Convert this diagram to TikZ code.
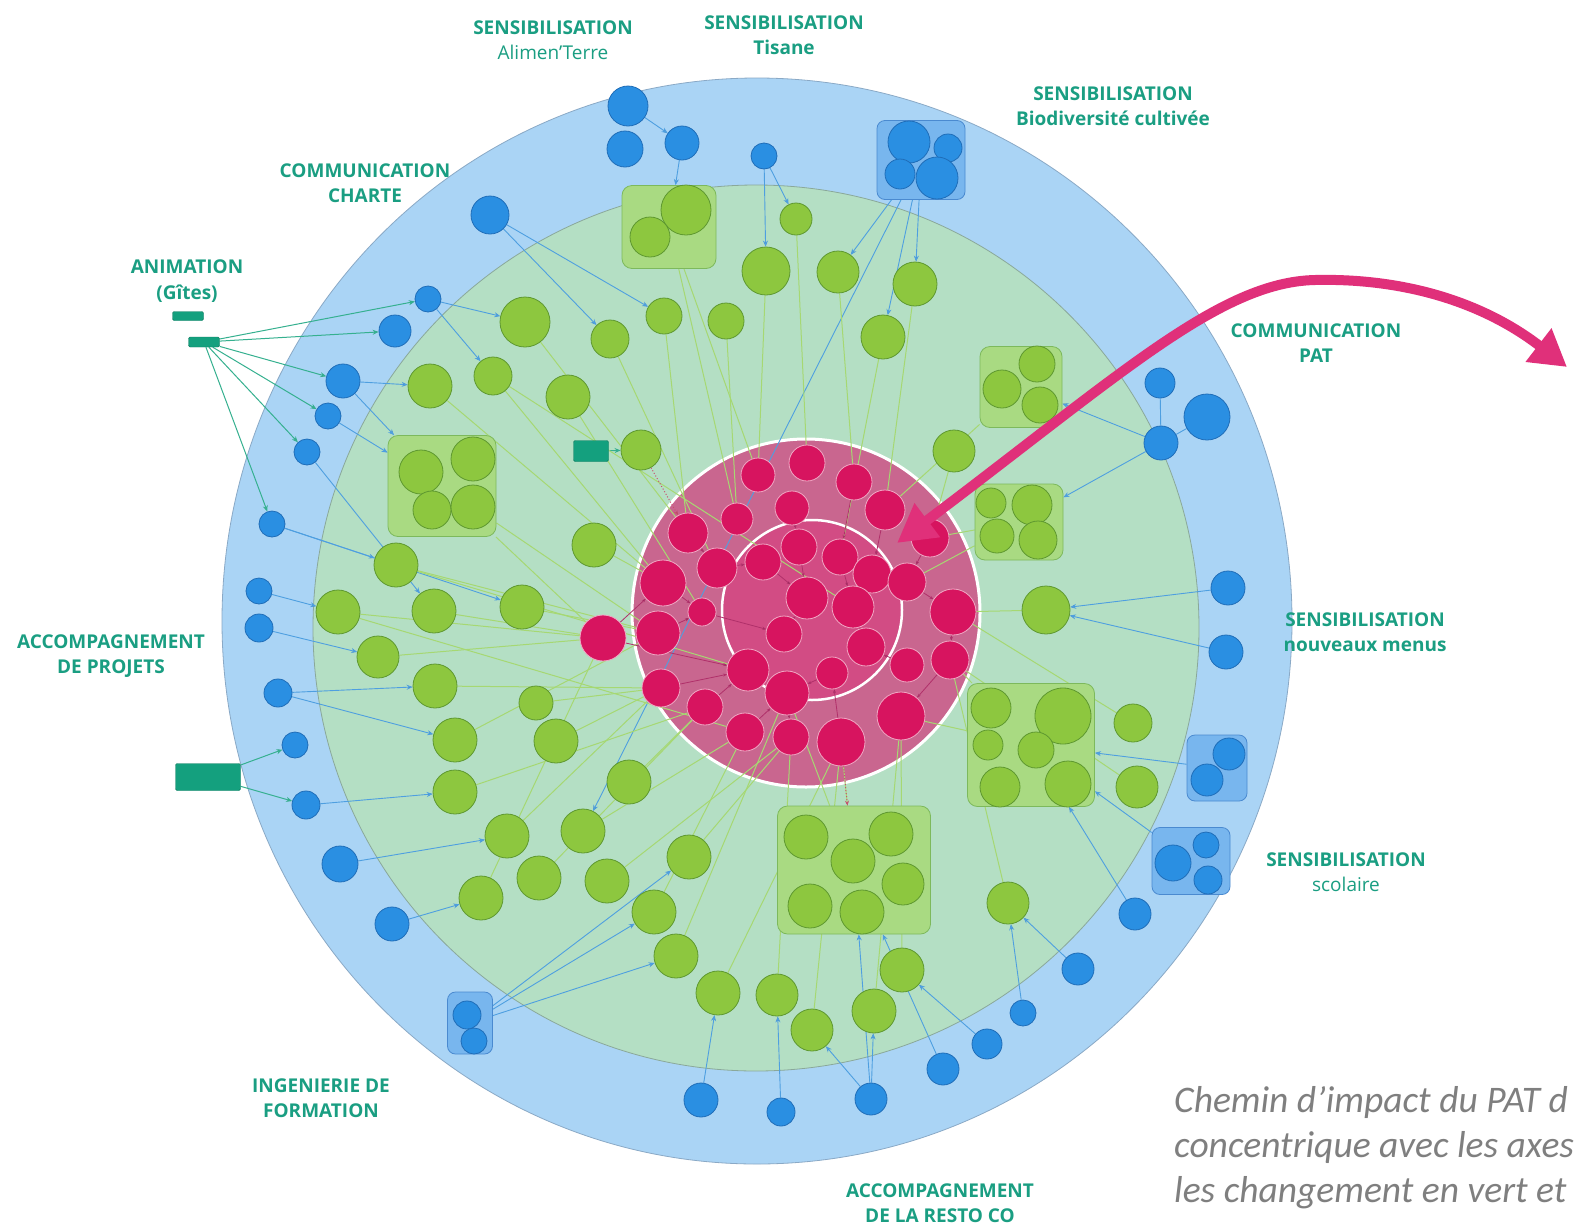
\documentclass[tikz,border=0pt]{standalone}
\usepackage{fontspec}
\setmainfont{Open Sans}
\newfontfamily\capfont{Carlito}
\usetikzlibrary{arrows.meta}
\definecolor{ringblue}{HTML}{AAD4F5}
\definecolor{ringbline}{HTML}{8AA9C6}
\definecolor{ringgreen}{HTML}{B4DFC4}
\definecolor{ringgline}{HTML}{8AA89A}
\definecolor{pinkring}{HTML}{C9668F}
\definecolor{pinkcore}{HTML}{D24C84}
\definecolor{bnodefill}{HTML}{2A8FE2}
\definecolor{bnodeline}{HTML}{1F6DB8}
\definecolor{gnodefill}{HTML}{8DC73F}
\definecolor{gnodeline}{HTML}{5E9830}
\definecolor{pnodefill}{HTML}{D7145F}
\definecolor{pnodeline}{HTML}{F0A8C4}
\definecolor{gboxfill}{HTML}{A9DA82}
\definecolor{gboxline}{HTML}{7DB95C}
\definecolor{bboxfill}{HTML}{78B6EE}
\definecolor{bboxline}{HTML}{4A8AD0}
\definecolor{tealfill}{HTML}{14A07E}
\definecolor{tealline}{HTML}{0D7A5F}
\definecolor{axetext}{HTML}{1A9E82}
\definecolor{captext}{HTML}{7F7F7F}
\definecolor{blinkc}{HTML}{4E9FE0}
\definecolor{glinkc}{HTML}{A6D872}
\definecolor{tlinkc}{HTML}{35B08F}
\definecolor{plinkc}{HTML}{B0306A}
\definecolor{rdotc}{HTML}{C8506E}
\definecolor{arrowc}{HTML}{E0307A}
\pgfdeclarelayer{bg}
\pgfsetlayers{bg,main}
\tikzset{
  bnode/.style={circle,draw=bnodeline,fill=bnodefill,line width=0.8pt,inner sep=0pt},
  gnode/.style={circle,draw=gnodeline,fill=gnodefill,line width=0.8pt,inner sep=0pt},
  pnode/.style={circle,draw=pnodeline,fill=pnodefill,line width=0.8pt,inner sep=0pt},
  gbox/.style={rectangle,rounded corners=10pt,draw=gboxline,fill=gboxfill,line width=0.8pt,inner sep=0pt},
  bbox/.style={rectangle,rounded corners=8pt,draw=bboxline,fill=bboxfill,line width=0.8pt,inner sep=0pt},
  tealbox/.style={rectangle,rounded corners=1.5pt,draw=tealline,fill=tealfill,inner sep=0pt},
  axe/.style={text=axetext,align=center,inner sep=0pt,font=\fontsize{19}{25.5}\selectfont\bfseries},
  caption/.style={text=captext,anchor=base west,inner sep=0pt,font=\capfont\itshape\fontsize{37.5}{45}\selectfont},
  blink/.style={draw=blinkc,line width=0.9pt,-{Stealth[length=6pt,width=5pt]}},
  bline/.style={draw=blinkc,line width=0.9pt},
  glink/.style={draw=glinkc,line width=1pt},
  tlink/.style={draw=tlinkc,line width=1pt,-{Stealth[length=6pt,width=5pt]}},
  plink/.style={draw=plinkc,line width=0.8pt,-{Stealth[length=4pt,width=3pt]}},
  rdot/.style={draw=rdotc,line width=1pt,dotted,-{Stealth[length=5pt,width=4pt]}},
  bigarrow/.style={draw=arrowc,line width=10pt,
    {Triangle[length=38pt,width=40pt]}-{Triangle[length=36pt,width=40pt]}}
}

\begin{document}
\begin{tikzpicture}[x=1pt,y=-1pt]
  \useasboundingbox (0,0) rectangle (1575,1232);
  \clip (0,0) rectangle (1575,1232);

  % group boxes
  \node[gbox,minimum width=94,minimum height=83] (gbA) at (669,227) {};
  \node[gbox,minimum width=108,minimum height=101] (gbB) at (442,486) {};
  \node[gbox,minimum width=82,minimum height=81] (gbC) at (1021,387) {};
  \node[gbox,minimum width=88,minimum height=76] (gbD) at (1019,522) {};
  \node[gbox,minimum width=127,minimum height=123] (gbE) at (1031,745) {};
  \node[gbox,minimum width=153,minimum height=128] (gbF) at (854,870) {};
  \node[bbox,minimum width=88,minimum height=79] (gbBio) at (921,160) {};
  \node[bbox,minimum width=60,minimum height=66] (gbN) at (1217,768) {};
  \node[bbox,minimum width=78,minimum height=67] (gbS) at (1191,861) {};
  \node[bbox,minimum width=45,minimum height=62] (gbG) at (470,1023) {};

  % small teal boxes
  \node[tealbox,minimum width=31,minimum height=9] (tA) at (188,316) {};
  \node[tealbox,minimum width=31,minimum height=10] (tB) at (204,342) {};
  \node[tealbox,minimum width=65,minimum height=27] (tC) at (208,777) {};
  \node[tealbox,minimum width=35,minimum height=21] (tD) at (591,451) {};

  % blue ring
  \foreach \n/\x/\y/\r in {b1/628/106/20, b2/625/149/18, b3/682/143/17, b4/764/156/13,
      b5/490/215/19, b6/428/299/13, b7/395/331/16, b8/343/381/17, b9/328/416/13,
      b10/307/452/13, b11/272/524/13, b12/259/591/13, b13/259/628/14, b14/278/693/14,
      b15/295/745/13, b16/306/805/14, b17/340/864/18, b18/392/924/17,
      b19/701/1100/17, b20/781/1112/14, b21/871/1099/16, b22/943/1069/16,
      b23/987/1044/15, b24/1023/1013/13, b25/1078/969/16, b26/1135/914/16,
      b27/1228/588/17, b28/1226/652/17, b29/1160/383/15, b30/1207/417/23, b31/1161/443/17,
      b32/909/142/21, b33/948/148/14, b34/900/174/15, b35/937/178/21,
      b36/1229/754/16, b37/1207/780/16, b38/1173/863/18, b39/1206/845/13, b40/1208/880/14,
      b41/467/1015/14, b42/474/1041/13}
    \node[bnode,minimum size=2*\r] (\n) at (\x,\y) {};

  % green ring
  \foreach \n/\x/\y/\r in {g1/686/210/25, g2/650/237/20, g3/766/271/24, g4/796/219/16,
      g5/838/272/21, g6/915/284/22, g7/883/337/22, g8/664/316/18, g9/726/321/18,
      g10/525/322/25, g11/610/339/19, g12/493/376/19, g13/430/386/22, g14/568/397/22,
      g15/641/450/20, g16/421/472/22, g17/473/459/22, g18/432/510/19, g19/473/507/22,
      g20/1037/364/18, g21/1002/389/19, g22/1040/405/18, g23/954/451/21,
      g24/991/503/15, g25/1032/505/20, g26/997/536/17, g27/1038/540/19, g28/1046/610/24,
      g29/396/565/22, g30/338/612/22, g31/434/611/22, g32/522/607/22, g33/594/545/22,
      g34/378/657/21, g35/435/686/22, g36/536/703/17, g37/455/740/22, g38/556/741/22,
      g39/455/792/22, g40/629/782/22, g41/507/836/22, g42/583/831/22, g43/539/878/22,
      g44/607/881/22, g45/481/898/22, g46/689/857/22, g47/654/912/22, g48/676/956/22,
      g49/718/993/22, g50/777/995/21, g51/812/1030/21, g52/874/1011/22, g53/902/970/22,
      g54/1008/903/21, g55/1133/723/19, g56/1137/787/21,
      g57/991/708/20, g58/1063/716/28, g59/988/745/15, g60/1036/750/18, g61/1000/787/20,
      g62/1068/784/23, g63/806/837/22, g64/891/834/22, g65/853/861/22, g66/903/884/21,
      g67/810/906/22, g68/862/912/22}
    \node[gnode,minimum size=2*\r] (\n) at (\x,\y) {};

  % pink rings
  \foreach \n/\x/\y/\r in {p1/758/475/17, p2/807/463/18, p3/854/482/18, p4/885/510/20,
      p5/930/538/19, p6/737/519/16, p7/792/508/17, p8/688/533/20, p9/663/583/23,
      p10/717/568/20, p11/702/612/14, p12/658/633/22, p13/603/638/23, p14/953/612/23,
      p15/950/660/19, p16/907/665/17, p17/661/688/19, p18/705/707/18, p19/745/732/19,
      p20/791/737/18, p21/841/742/24, p22/901/716/24, p23/748/670/21, p24/787/693/22,
      p25/799/547/18, p26/840/557/18, p27/763/562/18, p28/872/574/19, p29/907/582/19,
      p30/807/598/21, p31/853/607/21, p32/784/634/18, p33/866/647/19, p34/832/673/16}
    \node[pnode,minimum size=2*\r] (\n) at (\x,\y) {};

  % axes
  \node[axe] (lAlim) at (553,40) {SENSIBILISATION\\{\mdseries Alimen’Terre}};
  \node[axe] (lTis) at (784,35) {SENSIBILISATION\\Tisane};
  \node[axe] (lBio) at (1113,106) {SENSIBILISATION\\Biodiversité cultivée};
  \node[axe] (lCha) at (365,183) {COMMUNICATION\\CHARTE};
  \node[axe] (lAni) at (187,281) {ANIMATION\\(Gîtes)};
  \node[axe] (lPat) at (1316,343) {COMMUNICATION\\PAT};
  \node[axe] (lMen) at (1365,632) {SENSIBILISATION\\nouveaux menus};
  \node[axe] (lPro) at (111,656) {ACCOMPAGNEMENT\\DE PROJETS};
  \node[axe] (lSco) at (1346,872) {SENSIBILISATION\\{\mdseries scolaire}};
  \node[axe] (lFor) at (321,1098) {INGENIERIE DE\\FORMATION};
  \node[axe] (lRes) at (940,1203) {ACCOMPAGNEMENT\\DE LA RESTO CO};

  \node[caption] (cap1) at (1174,1112) {Chemin d’impact du PAT d};
  \node[caption] (cap2) at (1174,1157) {concentrique avec les axes};
  \node[caption] (cap3) at (1174,1202) {les changement en vert et};

  \begin{pgfonlayer}{bg}
    \fill[white] (0,0) rectangle (1575,1232);
    \draw[ringbline,fill=ringblue,line width=0.8pt] (757,621) ellipse (535 and 543);
    \draw[ringgline,fill=ringgreen,line width=0.8pt] (756,628) circle (443);
    \draw[white,fill=pinkring,line width=3pt] (806,613) circle (174);
    \draw[white,fill=pinkcore,line width=2.5pt] (812,610) circle (90);

    \path[blink]
      (b1) edge (b3) (b3) edge (gbA) (b4) edge (g3) (b4) edge (g4)
      (b5) edge (g8) (b5) edge (g11) (b6) edge (g10) (b6) edge (g12)
      (b8) edge (g13) (b8) edge (gbB) (b9) edge (gbB) (b10) edge (g31)
      (b11) edge (g29) (b11) edge (g32) (b12) edge (g30) (b13) edge (g34)
      (b14) edge (g35) (b14) edge (g37) (b16) edge (g39) (b17) edge (g41)
      (b18) edge (g45) (gbG) edge (g46) (gbG) edge (g47) (gbG) edge (g48)
      (b19) edge (g49) (b20) edge (g50) (b21) edge (gbF) (b21) edge (g51)
      (b21) edge (g52) (b22) edge (gbF) (b23) edge (g53) (b24) edge (g54)
      (b25) edge (g54) (b26) edge (gbE) (gbS) edge (gbE) (gbN) edge (gbE)
      (b27) edge (g28) (b28) edge (g28) (b31) edge (gbC) (b31) edge (gbD)
      (gbBio) edge (g5) (gbBio) edge (g6) (gbBio) edge (g7) (gbBio) edge (g42)
      ;
    \path[bline] (b29) edge (b31) (b30) edge (b31);
    \path[tlink]
      (tB) edge (b6) (tB) edge (b7) (tB) edge (b8) (tB) edge (b9)
      (tB) edge (b10) (tB) edge (b11) (tC) edge (b15) (tC) edge (b16)
      (tD) edge (g15)
      ;
    \path[glink]
      (gbA) edge (p6) (gbA) edge (p1) (g3) edge (p1) (g4) edge (p2)
      (g5) edge (p3) (g6) edge (p4) (g7) edge (p26) (g8) edge (p8)
      (g9) edge (p6) (g10) edge (p8) (g11) edge (p10) (g12) edge (p9)
      (g13) edge (p9) (g14) edge (p11) (gbB) edge (p13) (gbB) edge (p12)
      (g23) edge (p5) (gbC) edge (p4) (gbD) edge (p5) (gbD) edge (p29)
      (g28) edge (p14) (g29) edge (p12) (g30) edge (p13) (g31) edge (p13)
      (g32) edge (p12) (g33) edge (p9) (g34) edge (p13) (g35) edge (p17)
      (g36) edge (p17) (g37) edge (p12) (g38) edge (p17) (g39) edge (p18)
      (g40) edge (p18) (g41) edge (p17) (g42) edge (p19) (g43) edge (p18)
      (g44) edge (p20) (g45) edge (p13) (g46) edge (p20) (g47) edge (p19)
      (g48) edge (p24) (g49) edge (p21) (g50) edge (p20) (g51) edge (p21)
      (g52) edge (p22) (g53) edge (p22) (g54) edge (p15) (gbE) edge (p15)
      (gbE) edge (p22) (g55) edge (p14) (g56) edge (p15) (gbF) edge (p21)
      (gbF) edge (p24) (g30) edge (p19) (g29) edge (p23) (g12) edge (p31)
      ;
    \path[plink]
      (p13) edge (p9) (p8) edge (p10) (p12) edge (p11) (p17) edge (p23)
      (p13) edge (p23) (p10) edge (p27) (p27) edge (p30) (p25) edge (p30)
      (p7) edge (p25) (p3) edge (p26) (p4) edge (p28) (p5) edge (p29)
      (p26) edge (p31) (p28) edge (p31) (p29) edge (p14) (p14) edge (p15)
      (p15) edge (p22) (p16) edge (p33) (p33) edge (p31) (p34) edge (p24)
      (p24) edge (p20) (p32) edge (p30) (p11) edge (p32) (p21) edge (p34)
      (p19) edge (p24) (p18) edge (p23) (p9) edge (p11)
      ;
    \path[rdot] (g15) edge (p8) (p21) edge (gbF);
  \end{pgfonlayer}

  % big arrow
  \coordinate (arrA) at (897,543);
  \coordinate (arrB) at (1567,367);
  \draw[bigarrow] (arrA) .. controls (1120,375) and (1220,282) .. (1315,280)
    .. controls (1400,278) and (1480,300) .. (arrB);
\end{tikzpicture}
\end{document}
